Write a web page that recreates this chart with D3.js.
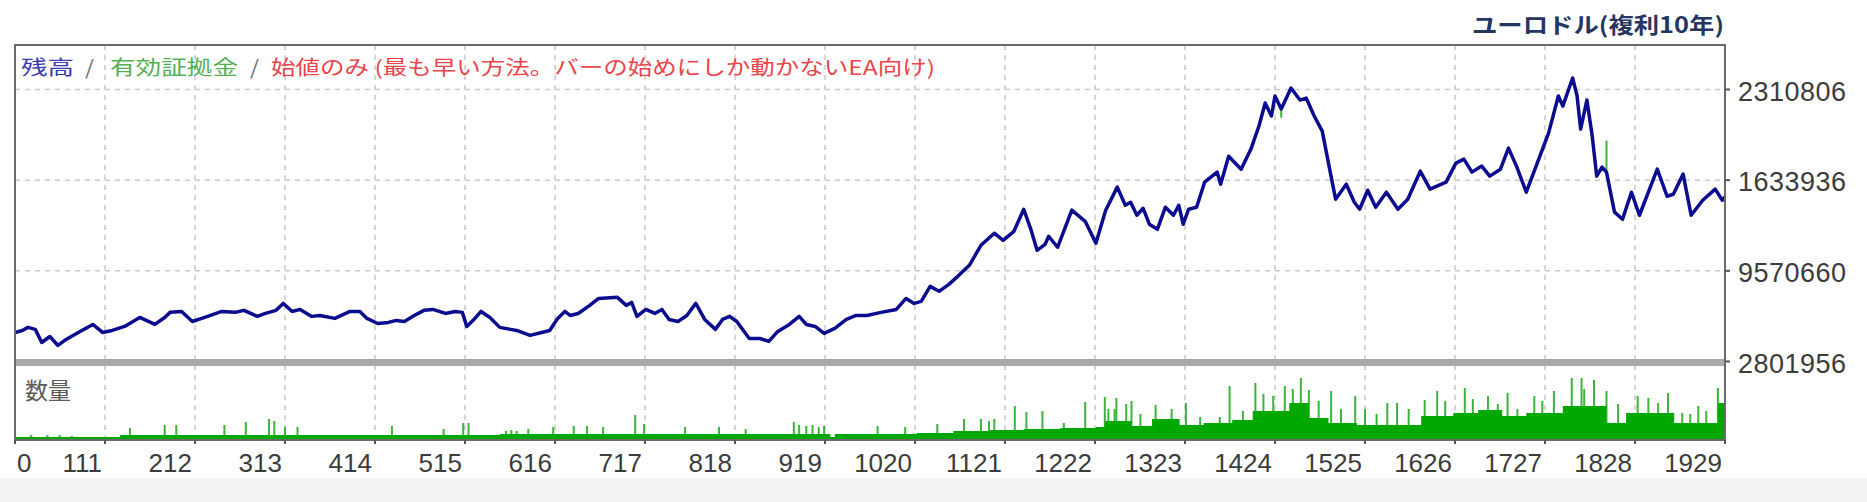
<!DOCTYPE html>
<html>
<head>
<meta charset="utf-8">
<script src="https://cdn.jsdelivr.net/npm/d3@7"></script>
<style>
html,body{margin:0;padding:0;background:#fff;}
svg{display:block;}
</style>
</head>
<body>
<svg id="chart" width="1867" height="502"></svg>
<script>
// ---------- DATA ----------
const chartTitle = "ユーロドル(複利10年)";
const legendItems = ["残高", "有効証拠金", "始値のみ (最も早い方法。バーの始めにしか動かないEA向け)"];
const volumeLabel = "数量";

// x axis: trade numbers shown as tick labels
const xTickValues = [0,111,212,313,414,515,616,717,818,919,1020,1121,1222,1323,1424,1525,1626,1727,1828,1929];

// y axis (balance, millions) and labels as printed
const yTickValues = [2.801956, 9.57066, 16.33936, 23.10806];
const yTickLabels = ["2801956", "9570660", "1633936", "2310806"];

// balance curve: [trade number, balance in millions]
const balance = [
[0,4.97],[9,5.12],[16,5.35],[25,5.20],[33,4.22],[43,4.67],[53,4.00],[63,4.45],[78,4.97],[96,5.57],
[108,4.97],[119,5.12],[133,5.42],[150,6.09],[167,5.57],[178,6.09],[184,6.47],[197,6.54],[209,5.79],[223,6.09],
[242,6.54],[257,6.47],[267,6.62],[282,6.17],[291,6.39],[303,6.62],[311,7.14],[321,6.54],[330,6.69],[343,6.17],
[352,6.24],[369,6.02],[386,6.54],[397,6.54],[405,6.02],[417,5.64],[429,5.72],[438,5.87],[447,5.79],[458,6.24],
[469,6.62],[479,6.69],[493,6.39],[504,6.54],[512,6.47],[517,5.42],[525,5.94],[533,6.54],[543,6.09],[554,5.35],
[566,5.20],[573,5.12],[588,4.75],[601,4.97],[610,5.12],[619,6.02],[627,6.54],[633,6.24],[642,6.39],[655,6.99],
[665,7.51],[686,7.59],[696,6.99],[702,7.21],[708,6.17],[718,6.69],[728,6.39],[736,6.69],[744,5.94],[754,5.79],
[764,6.24],[774,7.14],[784,5.94],[796,5.20],[804,5.94],[812,6.17],[820,5.79],[834,4.52],[846,4.52],[856,4.30],
[866,5.05],[879,5.57],[890,6.17],[898,5.57],[908,5.42],[918,4.90],[930,5.27],[943,5.94],[954,6.24],[966,6.24],
[982,6.47],[999,6.69],[1010,7.51],[1019,7.14],[1027,7.29],[1037,8.41],[1047,8.04],[1058,8.56],[1068,9.16],[1081,9.98],
[1094,11.48],[1109,12.38],[1119,11.85],[1131,12.52],[1142,14.17],[1150,12.67],[1157,11.10],[1166,11.55],[1170,12.15],[1180,11.33],
[1196,14.10],[1211,13.27],[1223,11.63],[1234,14.10],[1247,15.82],[1256,14.47],[1262,14.69],[1269,13.72],[1276,14.24],[1283,13.05],
[1292,12.67],[1301,14.32],[1310,13.72],[1316,14.47],[1321,13.05],[1327,14.17],[1336,14.32],[1345,16.19],[1359,16.94],[1363,16.04],
[1372,18.13],[1386,17.16],[1397,18.66],[1406,20.38],[1413,22.10],[1420,21.13],[1424,22.62],[1431,21.65],[1442,23.22],[1452,22.32],
[1459,22.47],[1468,21.13],[1477,20.00],[1486,16.94],[1492,14.92],[1504,16.04],[1513,14.69],[1519,14.17],[1528,15.59],[1537,14.32],
[1549,15.44],[1562,14.17],[1573,14.92],[1587,17.01],[1598,15.67],[1616,16.19],[1627,17.61],[1636,17.91],[1645,16.94],[1656,17.39],
[1665,16.64],[1677,17.16],[1686,18.73],[1695,17.39],[1706,15.44],[1720,17.91],[1731,19.85],[1742,22.62],[1747,21.87],[1758,23.97],
[1763,22.62],[1767,20.15],[1774,22.32],[1780,19.63],[1785,16.64],[1791,17.31],[1796,16.94],[1805,13.95],[1814,13.42],[1824,15.44],
[1833,13.72],[1853,17.16],[1864,15.14],[1871,15.29],[1882,16.79],[1891,13.72],[1904,14.84],[1918,15.67],[1926,14.84],[1929,15.10]
];

// equity excursions visible above the balance line: [trade, balance, equity]
const equitySpikes = [[1796,16.94,19.30],[1431,21.65,21.0]];

// volume: solid base level [trade, lots] (step) and thin spikes [trade, lots]
const volumeBase = [
[0,2],[111,2],[128,4],[554,5],[611,5],[925,2],[930,5],[1022,6],[1063,8],[1103,9],[1142,10],[1183,11],[1223,12],
[1233,18],[1263,13],[1286,20],[1317,14],[1344,16],[1376,19],[1399,28],[1440,36],[1462,21],[1484,16],[1516,14],
[1588,23],[1624,26],[1652,29],[1679,23],[1706,26],[1747,33],[1796,16],[1818,26],[1872,16],[1921,36],[1929,36]
];
const volumeSpikes = [
[20,4],[40,4],[55,4],[70,3],[139,11],[178,14],[191,14],[245,14],[269,17],[295,20],[301,18],[313,12],[327,12],
[433,13],[491,10],[513,16],[519,16],[561,8],[567,9],[573,8],[586,10],[614,12],[637,13],[652,13],[670,12],[706,24],
[716,15],[762,12],[800,12],[830,10],[884,17],[890,14],[898,13],[905,14],[912,12],[918,13],[978,13],[1009,12],
[1045,15],[1075,20],[1094,20],[1103,18],[1109,20],[1132,33],[1145,27],[1163,28],[1187,16],[1211,37],[1233,42],
[1237,30],[1244,30],[1246,41],[1257,35],[1263,38],[1273,25],[1290,34],[1308,30],[1324,36],[1340,22],[1362,22],
[1373,53],[1388,28],[1402,56],[1411,45],[1422,43],[1435,53],[1444,50],[1453,61],[1462,49],[1473,38],[1487,48],
[1498,30],[1514,43],[1525,30],[1538,25],[1550,36],[1561,36],[1574,30],[1592,39],[1606,48],[1615,38],[1637,51],
[1646,40],[1663,43],[1674,35],[1685,46],[1696,30],[1715,43],[1724,38],[1737,48],[1757,61],[1768,61],[1771,50],
[1782,59],[1796,48],[1809,35],[1831,43],[1843,41],[1854,36],[1865,46],[1881,26],[1890,25],[1899,33],[1908,28],[1921,51]
];

// ---------- LAYOUT ----------
const L = 15, R = 1725, T = 45, SEP = 362, B = 440;
const svg = d3.select("#chart");

const x = d3.scaleLinear()
  .domain(xTickValues)
  .range(xTickValues.map((d, i) => L + i * (R - L) / (xTickValues.length - 1)));
const y = d3.scaleLinear().domain([yTickValues[0], yTickValues[3]]).range([361.5, 89.5]);
const vy = d3.scaleLinear().domain([0, 72]).range([439, 367]);

// backgrounds
svg.append("rect").attr("width", 1867).attr("height", 502).attr("fill", "#ffffff");
svg.append("rect").attr("x", 0).attr("y", 478).attr("width", 1867).attr("height", 24).attr("fill", "#f3f3f3");

const grid = svg.append("g").attr("stroke", "#c9c9c9").attr("stroke-width", 1.5).attr("stroke-dasharray", "5,5");
grid.selectAll("line.v").data(xTickValues.slice(1, -1)).join("line")
  .attr("x1", d => x(d)).attr("x2", d => x(d)).attr("y1", T).attr("y2", B);
grid.selectAll("line.h").data(yTickValues.slice(1)).join("line")
  .attr("x1", L).attr("x2", R).attr("y1", d => y(d)).attr("y2", d => y(d));

// volume
const area = d3.area().curve(d3.curveStepAfter)
  .x(d => x(d[0])).y0(vy(0)).y1(d => vy(d[1]));
svg.append("g").selectAll("line").data(volumeSpikes).join("line")
  .attr("x1", d => x(d[0])).attr("x2", d => x(d[0]))
  .attr("y1", vy(0)).attr("y2", d => vy(d[1]))
  .attr("stroke", "#3cb43c").attr("stroke-width", 2);
svg.append("path").datum(volumeBase).attr("d", area).attr("fill", "#00a800");

// separator band
svg.append("rect").attr("x", L).attr("y", SEP - 3).attr("width", R - L).attr("height", 7).attr("fill", "#a9a9a9");

// balance line
svg.append("clipPath").attr("id", "mainClip").append("rect")
  .attr("x", L).attr("y", T).attr("width", R - L).attr("height", SEP - 3 - T);
svg.append("g").attr("clip-path", "url(#mainClip)").selectAll("line").data(equitySpikes).join("line")
  .attr("x1", d => x(d[0])).attr("x2", d => x(d[0]))
  .attr("y1", d => y(d[1])).attr("y2", d => y(d[2]))
  .attr("stroke", "#40b040").attr("stroke-width", 2);
const line = d3.line().x(d => x(d[0])).y(d => y(d[1]));
svg.append("path").datum(balance).attr("d", line)
  .attr("clip-path", "url(#mainClip)")
  .attr("fill", "none").attr("stroke", "#0c0c8e").attr("stroke-width", 3.5).attr("stroke-linejoin", "round");

// borders
svg.append("rect").attr("x", L).attr("y", T).attr("width", R - L).attr("height", B - T)
  .attr("fill", "none").attr("stroke", "#6a6a6a").attr("stroke-width", 2);

// x ticks and labels
const xt = svg.append("g");
xt.selectAll("line").data(xTickValues).join("line")
  .attr("x1", d => x(d)).attr("x2", d => x(d)).attr("y1", B).attr("y2", B + 4)
  .attr("stroke", "#555").attr("stroke-width", 2);
xt.selectAll("text").data(xTickValues).join("text")
  .attr("x", (d, i) => i === 0 ? x(d) + 2 : x(d) - 3)
  .attr("y", 472)
  .attr("text-anchor", (d, i) => i === 0 ? "start" : "end")
  .attr("font-family", "'Liberation Sans', Arial, sans-serif")
  .attr("font-size", 26).attr("fill", "#3c3c3c")
  .text(d => d);

// y ticks and labels
const yt = svg.append("g");
yt.selectAll("line").data(yTickValues).join("line")
  .attr("x1", R).attr("x2", R + 5).attr("y1", d => y(d)).attr("y2", d => y(d))
  .attr("stroke", "#555").attr("stroke-width", 2);
yt.selectAll("text").data(yTickValues).join("text")
  .attr("x", 1738).attr("y", d => y(d) + 11)
  .attr("font-family", "'Liberation Sans', Arial, sans-serif")
  .attr("font-size", 27).attr("letter-spacing", 0.5).attr("fill", "#3c3c3c")
  .text((d, i) => yTickLabels[i]);

// title
svg.append("text").attr("x", 1472).attr("y", 33)
  .attr("font-family", "'Noto Sans CJK JP', sans-serif").attr("font-weight", "bold")
  .attr("font-size", 22).attr("fill", "#26365e")
  .attr("textLength", 252).attr("lengthAdjust", "spacingAndGlyphs")
  .text(chartTitle);

// legend
const lg = svg.append("g").attr("font-family", "'Noto Sans CJK JP', sans-serif").attr("font-size", 20);
const legendSpec = [
  {t: legendItems[0], x: 21, w: 53, c: "#3b3bb0"},
  {t: "/", x: 85, w: 9, c: "#6f6f6f"},
  {t: legendItems[1], x: 110, w: 128, c: "#55b055"},
  {t: "/", x: 250, w: 9, c: "#6f6f6f"},
  {t: legendItems[2], x: 271, w: 664, c: "#e8454d"}
];
lg.selectAll("text").data(legendSpec).join("text")
  .attr("x", d => d.x).attr("y", 75)
  .attr("fill", d => d.c)
  .attr("textLength", d => d.w).attr("lengthAdjust", "spacingAndGlyphs")
  .text(d => d.t);

// volume label
svg.append("text").attr("x", 25).attr("y", 399)
  .attr("font-family", "'Noto Sans CJK JP', sans-serif").attr("font-size", 23)
  .attr("fill", "#5a5a5a").text(volumeLabel);
</script>
</body>
</html>
